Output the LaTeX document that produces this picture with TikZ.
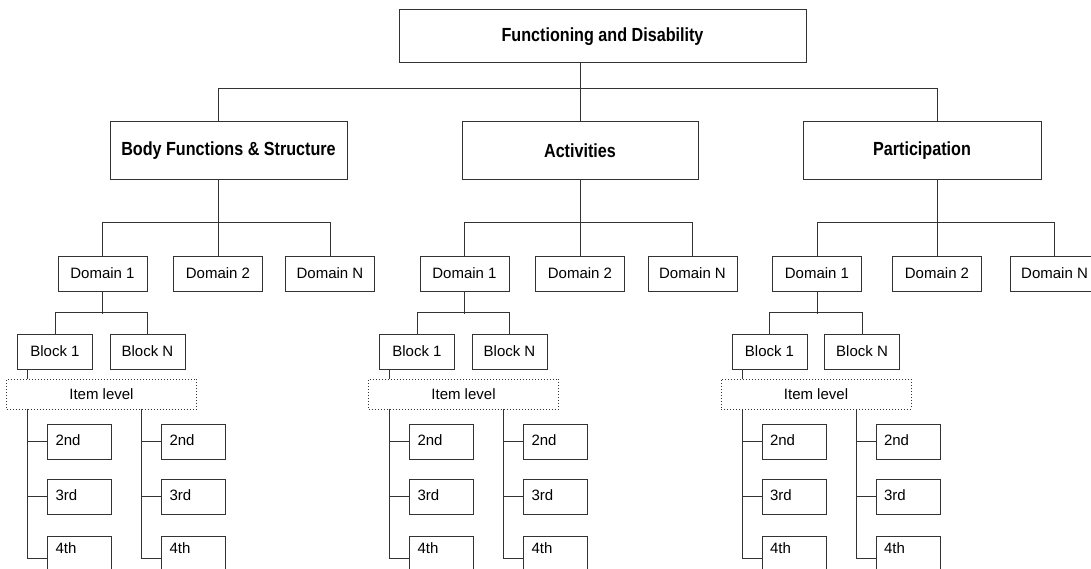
\documentclass[tikz,border=0pt]{standalone}
\usepackage{fontspec}
\setmainfont{Liberation Sans}
\newfontfamily\headfont{Liberation Sans}[FakeStretch=0.85]
\usepackage{tikz}
\tikzset{link/.style={line width=1pt, black!80}}
\tikzset{box/.style={draw=black!80, line width=1pt, inner sep=0pt,
    font=\fontsize{15}{18}\selectfont}}
\tikzset{head/.style={box, minimum height=58pt,
    font=\headfont\bfseries\fontsize{19}{22}\selectfont}}
\tikzset{dom/.style={box, minimum width=89pt, minimum height=35pt}}
\tikzset{blk/.style={box, minimum width=75pt, minimum height=35pt}}
\tikzset{itembox/.style={box, dash pattern=on 1pt off 2pt,
    minimum width=190pt, minimum height=30pt}}
\tikzset{ord/.style={box, text width=48pt, align=left, inner xsep=8pt,
    minimum height=35pt, text height=21pt, text depth=14pt}}
\tikzset{lastord/.style={ord, minimum height=44pt, text height=17pt, text depth=27pt}}

\begin{document}
\begin{tikzpicture}[x=1pt, y=1pt]
      \useasboundingbox (0,0) rectangle (1091,-569);
      \clip (0,0) rectangle (1091,-569);
      \node[head, minimum width=407pt, minimum height=53pt] (fd) at (602.5,-36.5) {Functioning and Disability};
      \node[head, minimum width=237pt] (catb) at (228.5,-151) {Body Functions \& Structure};
      \node[head, minimum width=236pt] (cata) at (580,-151) {Activities};
      \node[head, minimum width=238pt] (catp) at (922,-151) {Participation};
      % one subtree per category
      \foreach \t/\x/\y/\z in {b/102.5/218/330, a/464.5/580/692.5, p/817/937/1054.5} {
        \node[dom] (d1\t) at (\x,-273.5) {Domain 1};
        \node[dom] (d2\t) at (\y,-273.5) {Domain 2};
        \node[dom] (dn\t) at (\z,-273.5) {Domain N};
        \node[blk] (b1\t) at (\x-47.5,-351.5) {Block 1};
        \node[blk] (bn\t) at (\x+45,-351.5) {Block N};
        \node[itembox] (it\t) at (\x-1,-394) {Item level};
        \coordinate (cl\t) at (\x-75,-409);
        \coordinate (cr\t) at (\x+39,-409);
        \node[ord] (l2\t) at (\x-23,-441.5) {2nd};
        \node[ord] (l3\t) at (\x-23,-496.5) {3rd};
        \node[lastord] (l4\t) at (\x-23,-558) {4th};
        \node[ord] (r2\t) at (\x+91,-441.5) {2nd};
        \node[ord] (r3\t) at (\x+91,-496.5) {3rd};
        \node[lastord] (r4\t) at (\x+91,-558) {4th};
        \draw[link] (d2\t.north) -- (d2\t.north |- cat\t.south);
        \draw[link] (d1\t.north) -- ++(0,33) -| (dn\t.north);
        \draw[link] (d1\t.south) -- ++(0,-22);
        \draw[link] (b1\t.north) -- ++(0,21) -| (bn\t.north);
        \draw[link] (b1\t.south -| cl\t) -- (it\t.north -| cl\t);
        \draw[link] (cl\t) |- (l2\t.west) (cl\t) |- (l3\t.west) (cl\t) |- (l4\t.west);
        \draw[link] (cr\t) |- (r2\t.west) (cr\t) |- (r3\t.west) (cr\t) |- (r4\t.west);
      }
      %%%%%%%%%
      \draw[link] (catb.north -| d2b) -- ++(0,33) -| (catp.north -| d2p);
      \draw[link] (fd.south -| d2a) -- (cata.north -| d2a);
\end{tikzpicture}
\end{document}
